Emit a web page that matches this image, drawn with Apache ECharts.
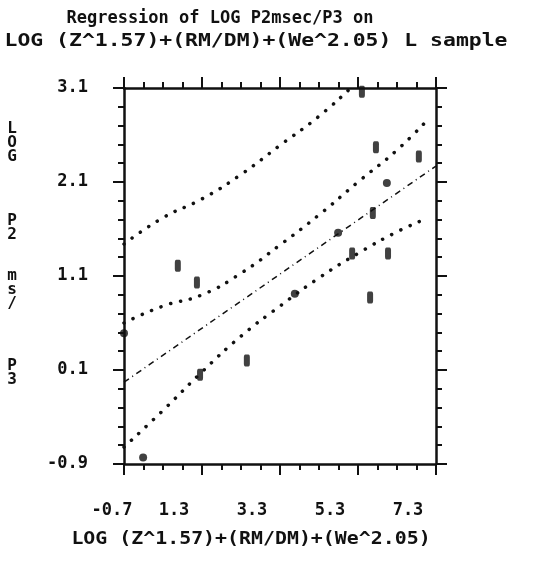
<!DOCTYPE html>
<html>
<head>
<meta charset="utf-8">
<script src="https://cdn.jsdelivr.net/npm/echarts@6/dist/echarts.min.js"></script>
<style>
  html, body { margin: 0; padding: 0; background: #fff; }
  #chart { width: 554px; height: 571px; }
</style>
</head>
<body>
<div id="chart"></div>
<script>
  /** 回归线 */
  const fitX = [-0.7, 7.3]
  const fitY = [-0.03, 2.27]

  /** 置信带 上/下 */
  const confUpperX = [-0.7, 0.3, 1.3, 2.3, 3.3, 4.3, 5.3, 6.3, 7.15]
  const confUpperY = [0.60, 0.78, 0.90, 1.13, 1.43, 1.75, 2.10, 2.44, 2.79]
  const confLowerX = [-0.7, 0.3, 1.3, 2.3, 3.3, 4.3, 5.3, 6.3, 7.0]
  const confLowerY = [-0.72, -0.33, 0.08, 0.46, 0.78, 1.08, 1.34, 1.57, 1.70]

  /** 预测带 上 */
  const predUpperX = [-0.7, 0.3, 1.3, 2.3, 3.3, 4.3, 5.3, 6.3]
  const predUpperY = [1.44, 1.72, 1.92, 2.18, 2.49, 2.80, 3.17, 3.55]

  /** 观测点 */
  const dotX = [-0.7, -0.21, 3.68, 4.79, 6.04]
  const dotY = [0.49, -0.83, 0.91, 1.56, 2.09]
  const tallX = [0.68, 1.17, 1.25, 2.45, 5.4, 5.76, 6.86, 5.68, 5.15, 6.07, 5.61]
  const tallY = [1.21, 1.03, 0.05, 0.20, 3.06, 2.47, 2.37, 1.77, 1.34, 1.34, 0.87]

  const xTicks = ['-0.7', '1.3', '3.3', '5.3', '7.3']
  const yTicks = ['-0.9', '0.1', '1.1', '2.1', '3.1']

  const zip = (xs, ys) => xs.map((x, i) => [x, ys[i]])
  const mono = '"DejaVu Sans Mono", monospace'
  const ink = '#111'

  const axisBase = {
    axisLine: { show: true, onZero: false, lineStyle: { color: ink, width: 2.5 } },
    axisTick: { show: true, inside: false, length: 11, lineStyle: { color: ink, width: 2 } },
    minorTick: { show: true, length: 6, lineStyle: { color: ink, width: 2 } },
    splitLine: { show: false },
    minorSplitLine: { show: false }
  }

  const chart = echarts.init(document.getElementById('chart'))
  chart.setOption({
    animation: false,
    backgroundColor: '#fff',
    grid: { left: 124, right: 118, top: 88, bottom: 107 },
    xAxis: [
      Object.assign({}, axisBase, {
        type: 'value', min: -0.7, max: 7.3, interval: 2, position: 'bottom',
        minorTick: Object.assign({}, axisBase.minorTick, { splitNumber: 4 }),
        axisLabel: {
          margin: 38,
          color: ink,
          fontFamily: mono,
          fontSize: 17,
          formatter: v => {
            const i = Math.round((v + 0.7) / 2)
            return (i === 0 ? '{f|' : '{r|') + xTicks[i] + '}'
          },
          rich: {
            f: { fontFamily: mono, fontSize: 17, fontWeight: 'bold', color: ink, padding: [0, 24, 0, 0] },
            r: { fontFamily: mono, fontSize: 17, fontWeight: 'bold', color: ink, padding: [0, 56, 0, 0] }
          }
        }
      }),
      Object.assign({}, axisBase, {
        type: 'value', min: -0.7, max: 7.3, interval: 2, position: 'top',
        minorTick: Object.assign({}, axisBase.minorTick, { splitNumber: 4 }),
        axisLabel: { show: false }
      })
    ],
    yAxis: [
      Object.assign({}, axisBase, {
        type: 'value', min: -0.9, max: 3.1, interval: 1, position: 'left',
        minorTick: Object.assign({}, axisBase.minorTick, { splitNumber: 5 }),
        axisLabel: {
          margin: 36,
          color: ink,
          fontFamily: mono,
          fontSize: 17,
          fontWeight: 'bold',
          formatter: v => yTicks[Math.round(v + 0.9)]
        }
      }),
      Object.assign({}, axisBase, {
        type: 'value', min: -0.9, max: 3.1, interval: 1, position: 'right',
        minorTick: Object.assign({}, axisBase.minorTick, { splitNumber: 5 }),
        axisLabel: { show: false }
      })
    ],
    graphic: [
      { type: 'text', x: 220, y: 19, style: { text: 'Regression of LOG P2msec/P3 on', font: 'bold 17px ' + mono, fill: ink, textAlign: 'center', textVerticalAlign: 'middle' } },
      { type: 'text', x: 256, y: 42, scaleX: 1.26, style: { text: 'LOG (Z^1.57)+(RM/DM)+(We^2.05) L sample', font: 'bold 17px ' + mono, fill: ink, textAlign: 'center', textVerticalAlign: 'middle' } },
      { type: 'text', x: 251, y: 540, scaleX: 1.17, style: { text: 'LOG (Z^1.57)+(RM/DM)+(We^2.05)', font: 'bold 17px ' + mono, fill: ink, textAlign: 'center', textVerticalAlign: 'middle' } },
      { type: 'text', x: 12, y: 122, style: { text: 'L\nO\nG', font: 'bold 16px ' + mono, lineHeight: 14, fill: ink, textAlign: 'center' } },
      { type: 'text', x: 12, y: 214, style: { text: 'P\n2', font: 'bold 16px ' + mono, lineHeight: 14, fill: ink, textAlign: 'center' } },
      { type: 'text', x: 12, y: 269, style: { text: 'm\ns\n/', font: 'bold 16px ' + mono, lineHeight: 14, fill: ink, textAlign: 'center' } },
      { type: 'text', x: 12, y: 359, style: { text: 'P\n3', font: 'bold 16px ' + mono, lineHeight: 14, fill: ink, textAlign: 'center' } }
    ],
    series: [
      {
        type: 'line', data: zip(predUpperX, predUpperY), smooth: true, symbol: 'none',
        lineStyle: { color: ink, width: 3.5, type: [0.1, 10], cap: 'round' }
      },
      {
        type: 'line', data: zip(confUpperX, confUpperY), smooth: true, symbol: 'none',
        lineStyle: { color: ink, width: 3.5, type: [0.1, 10], cap: 'round' }
      },
      {
        type: 'line', data: zip(confLowerX, confLowerY), smooth: true, symbol: 'none',
        lineStyle: { color: ink, width: 3.5, type: [0.1, 10], cap: 'round' }
      },
      {
        type: 'line', data: zip(fitX, fitY), symbol: 'none',
        lineStyle: { color: ink, width: 1.5, type: [6, 4, 1, 4] }
      },
      {
        type: 'scatter', data: zip(dotX, dotY), symbol: 'circle', symbolSize: 8,
        itemStyle: { color: ink }
      },
      {
        type: 'scatter', data: zip(tallX, tallY), symbol: 'roundRect', symbolSize: [6, 12],
        itemStyle: { color: ink }
      }
    ]
  })
</script>
</body>
</html>
